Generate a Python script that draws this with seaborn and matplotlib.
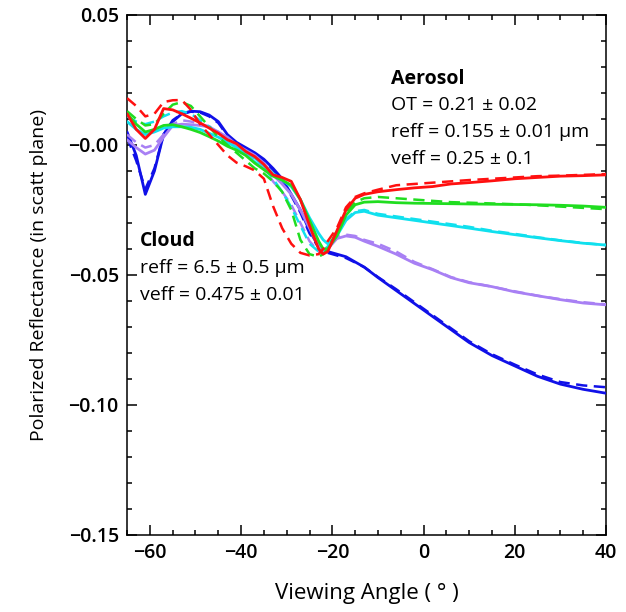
import numpy as np
import pandas as pd
import matplotlib
matplotlib.use("Agg")
import matplotlib.pyplot as plt
import seaborn as sns

# ---- data ----
angle = [-65, -63, -61, -59, -57, -55, -53, -51, -49, -47, -45, -43, -41, -39, -37,
         -35, -33, -31, -29, -27, -25, -23, -22, -21, -19, -17, -15, -13, -10, -6,
         -2, 2, 6, 10, 15, 20, 25, 30, 35, 40]

red_solid = [0.012, 0.006, 0.0025, 0.006, 0.014, 0.0135, 0.012, 0.0103, 0.0085, 0.0065,
             0.0045, 0.002, 0.0005, -0.0025, -0.0045, -0.0075, -0.0115, -0.0125, -0.014, -0.021,
             -0.031, -0.040, -0.042, -0.041, -0.033, -0.025, -0.0205, -0.019, -0.018, -0.0172,
             -0.0165, -0.016, -0.015, -0.0145, -0.0138, -0.013, -0.0125, -0.012, -0.0118, -0.0115]
red_dash = [0.018, 0.015, 0.011, 0.012, 0.0165, 0.0172, 0.0173, 0.0135, 0.008, 0.004,
            0.000, -0.004, -0.0068, -0.0082, -0.0098, -0.013, -0.0235, -0.032, -0.038, -0.0415,
            -0.0425, -0.042, -0.040, -0.037, -0.032, -0.024, -0.020, -0.0186, -0.0172, -0.0155,
            -0.015, -0.0145, -0.014, -0.0135, -0.013, -0.0125, -0.012, -0.0118, -0.0115, -0.0112]

green_solid = [0.012, 0.008, 0.005, 0.006, 0.0075, 0.0078, 0.007, 0.006, 0.0048, 0.0032,
               0.0015, -0.0005, -0.002, -0.004, -0.007, -0.0095, -0.012, -0.0135, -0.0155, -0.021,
               -0.029, -0.037, -0.040, -0.040, -0.035, -0.027, -0.023, -0.022, -0.0218, -0.0222,
               -0.0224, -0.0225, -0.0226, -0.0227, -0.0228, -0.0229, -0.023, -0.0232, -0.0235, -0.024]
green_dash = [0.013, 0.010, 0.0075, 0.008, 0.012, 0.0155, 0.0165, 0.015, 0.011, 0.007,
              0.003, 0.000, -0.003, -0.006, -0.009, -0.011, -0.014, -0.018, -0.025, -0.0365,
              -0.042, -0.043, -0.042, -0.040, -0.033, -0.026, -0.022, -0.0205, -0.020, -0.0205,
              -0.021, -0.0215, -0.022, -0.0222, -0.0225, -0.0228, -0.0232, -0.0237, -0.0242, -0.0247]

cyan_solid = [0.009, 0.006, 0.004, 0.005, 0.0065, 0.007, 0.007, 0.0068, 0.006, 0.0045,
              0.003, 0.001, -0.001, -0.003, -0.005, -0.008, -0.011, -0.0135, -0.016, -0.021,
              -0.028, -0.034, -0.0365, -0.038, -0.035, -0.029, -0.026, -0.0255, -0.027, -0.028,
              -0.029, -0.030, -0.031, -0.032, -0.0333, -0.0345, -0.0357, -0.0368, -0.0378, -0.0385]
cyan_dash = [0.011, 0.009, 0.008, 0.009, 0.011, 0.0125, 0.013, 0.012, 0.0095, 0.007,
             0.004, 0.001, -0.0015, -0.004, -0.0065, -0.009, -0.013, -0.018, -0.024, -0.031,
             -0.038, -0.041, -0.041, -0.039, -0.034, -0.0285, -0.0255, -0.025, -0.0265, -0.0275,
             -0.0285, -0.0295, -0.0305, -0.0315, -0.033, -0.0342, -0.0355, -0.0367, -0.0377, -0.0385]

purple_solid = [0.002, -0.001, -0.0035, -0.002, 0.003, 0.0075, 0.008, 0.0078, 0.0075, 0.007,
                0.005, 0.003, 0.000, -0.002, -0.004, -0.007, -0.0115, -0.015, -0.019, -0.025,
                -0.032, -0.039, -0.041, -0.040, -0.036, -0.035, -0.0355, -0.037, -0.039, -0.042,
                -0.0455, -0.048, -0.051, -0.053, -0.0545, -0.0565, -0.058, -0.0595, -0.0608, -0.0615]
purple_dash = [0.004, 0.001, -0.001, 0.000, 0.004, 0.008, 0.0095, 0.009, 0.008, 0.0072,
               0.005, 0.0025, -0.0005, -0.003, -0.0055, -0.009, -0.014, -0.018, -0.023, -0.030,
               -0.037, -0.041, -0.041, -0.039, -0.035, -0.0345, -0.035, -0.0365, -0.038, -0.041,
               -0.045, -0.0478, -0.0508, -0.0528, -0.0545, -0.0563, -0.058, -0.0593, -0.0605, -0.0613]

blue_solid = [0.005, -0.004, -0.019, -0.010, 0.004, 0.009, 0.012, 0.013, 0.0128, 0.0115,
              0.009, 0.004, 0.001, -0.001, -0.003, -0.0055, -0.009, -0.013, -0.019, -0.025,
              -0.033, -0.039, -0.0405, -0.041, -0.042, -0.043, -0.045, -0.047, -0.051, -0.056,
              -0.061, -0.066, -0.071, -0.076, -0.081, -0.085, -0.089, -0.092, -0.094, -0.0955]
blue_dash = [0.003, -0.006, -0.017, -0.009, 0.004, 0.0095, 0.012, 0.0128, 0.0125, 0.011,
             0.0085, 0.0035, 0.0005, -0.0015, -0.0035, -0.006, -0.0095, -0.0135, -0.0195, -0.026,
             -0.034, -0.0395, -0.041, -0.0415, -0.0425, -0.0435, -0.0452, -0.047, -0.0508, -0.0555,
             -0.0605, -0.0655, -0.0705, -0.0755, -0.0805, -0.0845, -0.0883, -0.0912, -0.0925, -0.0932]

series = {
    ("blue", "model"): blue_solid, ("blue", "obs"): blue_dash,
    ("purple", "model"): purple_solid, ("purple", "obs"): purple_dash,
    ("cyan", "model"): cyan_solid, ("cyan", "obs"): cyan_dash,
    ("green", "model"): green_solid, ("green", "obs"): green_dash,
    ("red", "model"): red_solid, ("red", "obs"): red_dash,
}

xtick_vals = [-60, -40, -20, 0, 20, 40]
xtick_labels = ["\u221260", "\u221240", "\u221220", "0", "20", "40"]
ytick_vals = [-0.15, -0.10, -0.05, 0.0, 0.05]
ytick_labels = ["\u22120.15", "\u22120.10", "\u22120.05", "\u22120.00", "0.05"]

aerosol_lines = ["OT = 0.21 \u00b1 0.02", "reff = 0.155 \u00b1 0.01 \u03bcm", "veff = 0.25 \u00b1 0.1"]
cloud_lines = ["reff = 6.5 \u00b1 0.5 \u03bcm", "veff = 0.475 \u00b1 0.01"]

# ---- styling ----
sns.set_style("ticks")
plt.rcParams['font.family'] = ['Open Sans', 'DejaVu Sans']
plt.rcParams['text.color'] = 'black'
plt.rcParams['axes.labelcolor'] = 'black'

colors = {"blue": "#1010e8", "purple": "#a880f4", "cyan": "#10e0ee",
          "green": "#20dd20", "red": "#ff1010"}

fig = plt.figure(figsize=(6.26, 6.12), dpi=100)
ax = fig.add_axes([0.203, 0.126, 0.765, 0.8495])

for (col, kind), vals in series.items():
    df = pd.DataFrame({"angle": angle, "pr": vals})
    if kind == "model":
        sns.lineplot(data=df, x="angle", y="pr", ax=ax, color=colors[col],
                     lw=2.0, sort=False, estimator=None, zorder=3)
    else:
        sns.lineplot(data=df, x="angle", y="pr", ax=ax, color=colors[col],
                     lw=1.8, sort=False, estimator=None, zorder=3)
        ax.lines[-1].set_dashes((4.5, 2.6))

ax.set_xlim(-65, 40)
ax.set_ylim(-0.15, 0.05)
ax.set_xticks(xtick_vals)
ax.set_xticklabels(xtick_labels, fontweight="semibold")
ax.set_yticks(ytick_vals)
ax.set_yticklabels(ytick_labels, fontweight="semibold")
ax.xaxis.set_minor_locator(matplotlib.ticker.MultipleLocator(5))
ax.yaxis.set_minor_locator(matplotlib.ticker.MultipleLocator(0.01))
ax.tick_params(which="both", direction="in", top=True, right=True, colors="black")
ax.tick_params(which="major", length=7, width=1.1, labelsize=14, pad=6)
ax.tick_params(which="minor", length=3.5, width=1.1)
for sp in ax.spines.values():
    sp.set_linewidth(1.1)
    sp.set_color("black")

ax.set_xlabel("Viewing Angle ( \u00b0 )", fontsize=16, labelpad=14, color="black")
ax.set_ylabel("Polarized Reflectance (in scatt plane)", fontsize=14, labelpad=15, color="black")

# annotations
ax.text(-7.1, 0.0252, "Aerosol", fontsize=14, fontweight="bold", va="center", ha="left", color="black")
for i, t in enumerate(aerosol_lines):
    ax.text(-7.1, 0.0152 - i * 0.0103, t, fontsize=14, va="center", ha="left", color="black")
ax.text(-62.2, -0.0368, "Cloud", fontsize=14, fontweight="bold", va="center", ha="left", color="black")
for i, t in enumerate(cloud_lines):
    ax.text(-62.2, -0.0474 - i * 0.0103, t, fontsize=14, va="center", ha="left", color="black")

fig.savefig("out.png", dpi=100)
